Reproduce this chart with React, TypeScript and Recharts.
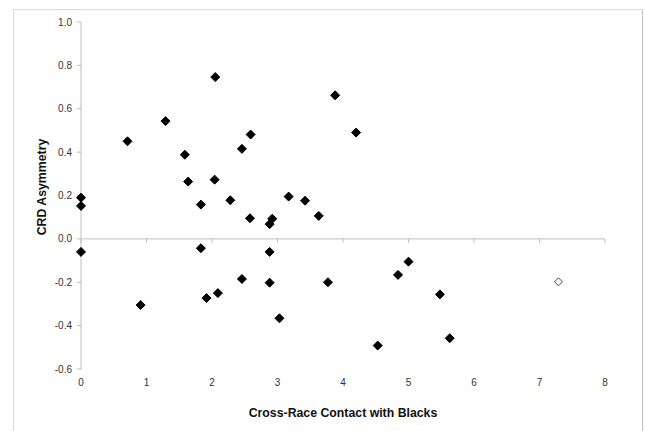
import React from "react";
import { ScatterChart, Scatter, XAxis, YAxis, ReferenceLine } from "recharts";

const xTicks = [0, 1, 2, 3, 4, 5, 6, 7, 8];
const yTicks = [-0.6, -0.4, -0.2, 0, 0.2, 0.4, 0.6, 0.8, 1.0];

const contactValues = [
  0, 0, 0, 0.71, 0.91, 1.29, 1.585, 1.636, 1.83, 1.83, 1.916, 2.04, 2.05, 2.09,
  2.28, 2.457, 2.457, 2.59, 2.58, 2.88, 2.92, 2.88, 2.88, 3.03, 3.17, 3.42,
  3.63, 3.77, 3.88, 4.2, 4.53, 4.84, 5.0, 5.48, 5.63,
];
const asymmetryValues = [
  0.19, 0.152, -0.06, 0.45, -0.305, 0.543, 0.388, 0.264, 0.158, -0.043, -0.273,
  0.273, 0.746, -0.25, 0.178, 0.415, -0.185, 0.481, 0.095, 0.068, 0.093, -0.06,
  -0.202, -0.366, 0.195, 0.176, 0.106, -0.2, 0.662, 0.49, -0.492, -0.166,
  -0.105, -0.256, -0.458,
];

const outlierContact = [7.29];
const outlierAsymmetry = [-0.198];

const mainData = contactValues.map((x, i) => ({ x, y: asymmetryValues[i] }));
const outlierData = outlierContact.map((x, i) => ({ x, y: outlierAsymmetry[i] }));

const AXIS = "#bfbfbf";
const FONT = "'Liberation Sans', Arial, sans-serif";

const Diamond = (fill: string, stroke: string, r: number) => (props: any) => {
  const { cx, cy } = props;
  if (cx == null || cy == null) return <g />;
  return (
    <polygon
      points={`${cx},${cy - r} ${cx + r},${cy} ${cx},${cy + r} ${cx - r},${cy}`}
      fill={fill}
      stroke={stroke}
      strokeWidth={1}
    />
  );
};

const ZeroLine = (props: any) => {
  const { x1, y1, x2, y2 } = props;
  const min = xTicks[0];
  const max = xTicks[xTicks.length - 1];
  return (
    <g>
      <line x1={x1} y1={y1} x2={x2} y2={y2} stroke={AXIS} strokeWidth={1} />
      {xTicks.map((t) => {
        const px = x1 + ((t - min) / (max - min)) * (x2 - x1);
        return <line key={t} x1={px} y1={y1} x2={px} y2={y1 + 4} stroke={AXIS} strokeWidth={1} />;
      })}
    </g>
  );
};

export default function App() {
  return (
    <div style={{ position: "absolute", left: 0, top: 0, width: 645, height: 431, background: "#fff", overflow: "hidden" }}>
      <div
        style={{
          position: "absolute",
          left: 13,
          top: 9,
          width: 630,
          height: 440,
          borderLeft: "1px solid #d9d9d9",
          borderTop: "1px solid #d9d9d9",
          borderRight: "1px solid #c4c4c4",
          boxSizing: "border-box",
        }}
      />
      <div style={{ position: "absolute", left: 0, top: 0 }}>
        <ScatterChart width={645} height={431} margin={{ top: 22, right: 40, bottom: 32, left: 21 }}>
          <XAxis
            type="number"
            dataKey="x"
            domain={[0, 8]}
            ticks={xTicks}
            axisLine={false}
            tickLine={false}
            height={30}
            tickMargin={4}
            tick={{ fontSize: 10, fill: "#333", fontFamily: FONT }}
            label={(p: any) => {
              const vb = p.viewBox;
              return (
                <text
                  x={vb.x + vb.width / 2}
                  y={413}
                  dy="0.36em"
                  textAnchor="middle"
                  fontSize={12.3}
                  fontWeight="bold"
                  fill="#111"
                  fontFamily={FONT}
                >
                  Cross-Race Contact with Blacks
                </text>
              );
            }}
          />
          <YAxis
            type="number"
            dataKey="y"
            domain={[-0.6, 1.0]}
            ticks={yTicks}
            width={60}
            axisLine={{ stroke: AXIS }}
            tickLine={{ stroke: AXIS }}
            tickSize={4}
            tickMargin={5}
            tickFormatter={(v: number) => v.toFixed(1)}
            tick={{ fontSize: 10, fill: "#333", fontFamily: FONT }}
            label={() => {
              return (
                <text
                  transform={`translate(42,187) rotate(-90)`}
                  dy="0.36em"
                  textAnchor="middle"
                  fontSize={12.3}
                  fontWeight="bold"
                  fill="#111"
                  fontFamily={FONT}
                >
                  CRD Asymmetry
                </text>
              );
            }}
          />
          <ReferenceLine y={0} shape={ZeroLine} />
          <Scatter data={mainData} shape={Diamond("#000", "#000", 4.5)} isAnimationActive={false} />
          <Scatter data={outlierData} shape={Diamond("#fff", "#444", 4)} isAnimationActive={false} />
        </ScatterChart>
      </div>
    </div>
  );
}
